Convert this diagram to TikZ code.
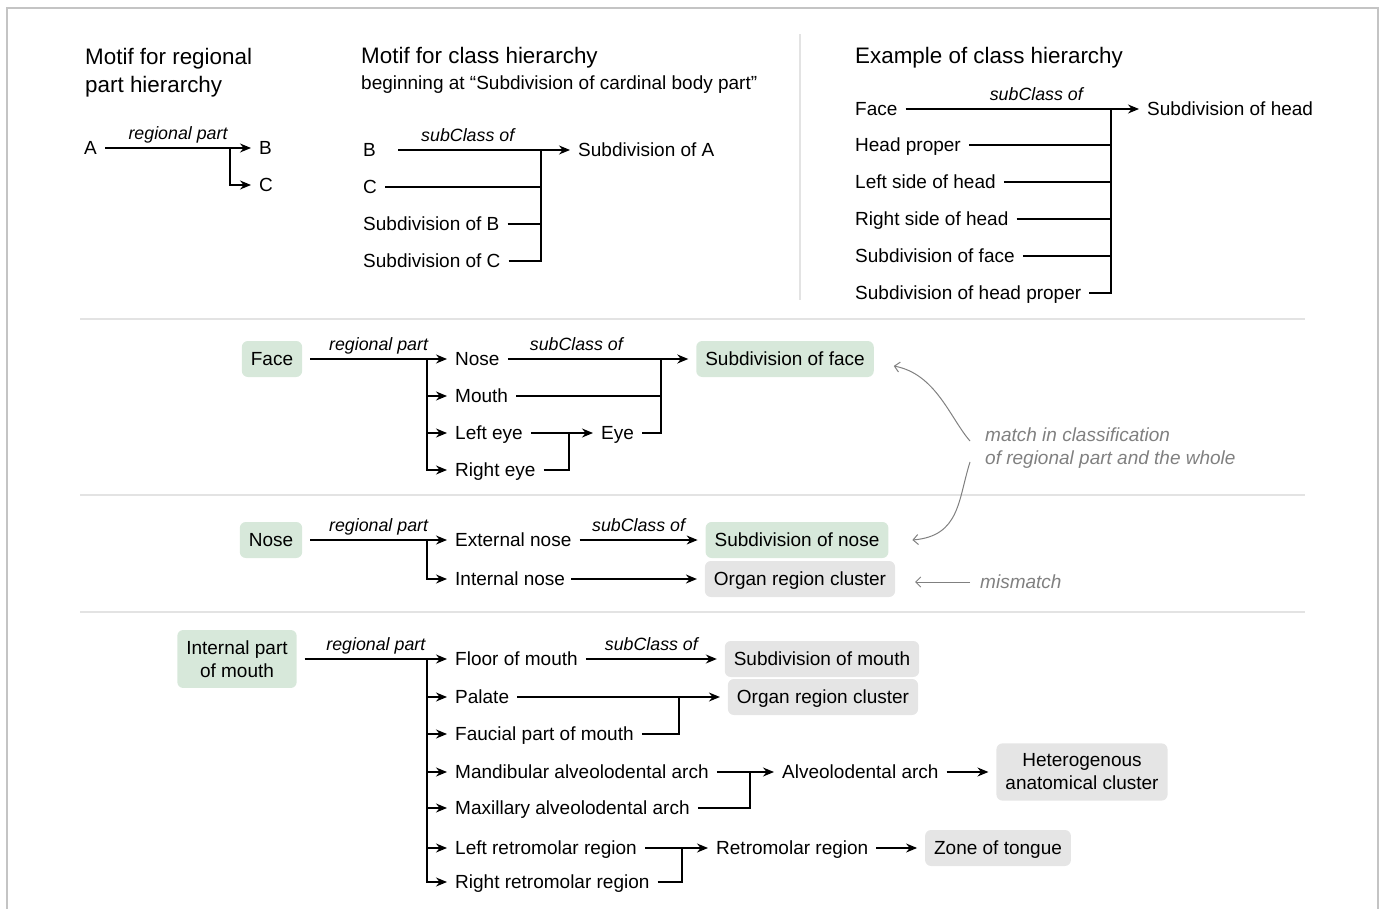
\documentclass[tikz,border=0pt]{standalone}
\usepackage{fontspec}
\setmainfont{Liberation Sans}
\usetikzlibrary{arrows.meta,positioning,calc}
\definecolor{partgreen}{HTML}{D7E8DA}
\definecolor{partgray}{HTML}{E5E5E5}
\definecolor{rulegray}{HTML}{E3E3E3}
\definecolor{framegray}{HTML}{C4C4C4}
\definecolor{notegray}{HTML}{808080}

\tikzset{
  term/.style={anchor=west, inner xsep=8pt, inner ysep=0pt, text height=13.5pt, text depth=0pt},
  heading/.style={anchor=base west, inner sep=0pt, font=\fontsize{22.4}{28}\selectfont},
  rel/.style={font=\fontsize{17.8}{21}\selectfont\itshape, inner xsep=0pt, inner ysep=4pt, text height=12.7pt, text depth=3.7pt},
  wholebox/.style={fill=partgreen, rounded corners=6pt, inner xsep=9pt, inner ysep=11.25pt, outer xsep=8pt, text height=13.5pt, text depth=0pt},
  otherbox/.style={wholebox, fill=partgray},
  twoline/.style={rounded corners=6pt, inner xsep=9pt, inner ysep=10.5pt, outer xsep=8pt, align=center, font=\fontsize{19}{23}\selectfont},
  link/.style={line width=1.3pt},
  arr/.style={link, -{Stealth[length=11pt,width=9pt]}},
  note/.style={anchor=west, inner sep=0pt, align=left, text=notegray, font=\fontsize{19}{23}\selectfont\itshape},
  notearr/.style={notegray, line width=1pt, -{Straight Barb[length=5pt,width=10pt]}},
  divider/.style={rulegray, line width=1.3pt}
}

\begin{document}
\begin{tikzpicture}[x=1pt,y=-1pt, every node/.style={font=\fontsize{19}{23}\selectfont}]
\useasboundingbox (0,0) rectangle (1384,909);
% Moldura
\draw[framegray, line width=2.5pt] (7,930) -- (7,8) -- (1378,8) -- (1378,930);

% Motivo: parte regional
\node[heading, anchor=north west, align=left] (titA) at (85,48) {Motif for regional\\part hierarchy};
\node[term] (A) at (76,148) {A};
\node[term] (B) at (251,148) {B};
\node[term] (C) at (251,185) {C};
\coordinate (jA) at (230,148);
\draw[arr] (A) -- (B) node[rel,midway,above] {regional part};
\draw[arr] (jA) |- (C.west);

% Motivo: classes
\node[heading] (titB) at (361,64) {Motif for class hierarchy};
\node[term, inner xsep=0pt] (subB) at (361,83) {beginning at “Subdivision of cardinal body part”};
\node[term] (B2) at (355,150) {B};
\node[term] (C2) at (355,187) {C};
\node[term] (SB) at (355,224) {Subdivision of B};
\node[term] (SC) at (355,261) {Subdivision of C};
\node[term] (SA) at (570,150) {Subdivision of A};
\coordinate (jB) at (541,150);
\draw[arr, shorten <=14pt] (B2) -- (SA) node[rel,pos=0.45,above] {subClass of};
\draw[link] (C2.east) -- (C2.east -| jB);
\draw[link] (SB.east) -- (SB.east -| jB);
\draw[link] (SC.east) -| (jB);

% Exemplo
\draw[divider] (800,34) -- (800,300);
\node[heading] (titC) at (855,64) {Example of class hierarchy};
\node[term] (eFace) at (847,109) {Face};
\node[term] (eHead) at (847,145) {Head proper};
\node[term] (eLeft) at (847,182) {Left side of head};
\node[term] (eRight) at (847,219) {Right side of head};
\node[term] (eSubFace) at (847,256) {Subdivision of face};
\node[term] (eSubHP) at (847,293) {Subdivision of head proper};
\node[term] (eSubHead) at (1139,109) {Subdivision of head};
\coordinate (jC) at (1111,109);
\draw[arr] (eFace) -- (eSubHead) node[rel,pos=0.56,above] {subClass of};
\draw[link] (eHead.east) -- (eHead.east -| jC);
\draw[link] (eLeft.east) -- (eLeft.east -| jC);
\draw[link] (eRight.east) -- (eRight.east -| jC);
\draw[link] (eSubFace.east) -- (eSubFace.east -| jC);
\draw[link] (eSubHP.east) -| (jC);

% Separadores
\draw[divider] (80,319) -- (1305,319);
\draw[divider] (80,495) -- (1305,495);
\draw[divider] (80,612) -- (1305,612);

% Face
\node[wholebox] (Face) at (272,359) {Face};
\node[term] (Nose) at (447,359) {Nose};
\node[term] (Mouth) at (447,396) {Mouth};
\node[term] (LEye) at (447,433) {Left eye};
\node[term] (REye) at (447,470) {Right eye};
\node[term] (Eye) at (593,433) {Eye};
\node[wholebox] (SubFace) at (785,359) {Subdivision of face};
\coordinate (jF) at (427,359);
\coordinate (jE) at (569,433);
\coordinate (jS) at (661,359);
\draw[arr] (Face) -- (Nose) node[rel,midway,above] {regional part};
\draw[arr] (jF |- Mouth) -- (Mouth);
\draw[arr] (jF |- LEye) -- (LEye);
\draw[arr] (jF) |- (REye.west);
\draw[arr] (Nose) -- (SubFace) node[rel,pos=0.38,above] {subClass of};
\draw[link] (Mouth.east) -- (Mouth.east -| jS);
\draw[arr] (LEye) -- (Eye);
\draw[link] (REye.east) -| (jE);
\draw[link] (Eye.east) -| (jS);

% Nariz
\node[wholebox] (NoseB) at (271,540) {Nose};
\node[term] (ExtNose) at (447,540) {External nose};
\node[term] (IntNose) at (447,579) {Internal nose};
\node[wholebox] (SubNose) at (797,540) {Subdivision of nose};
\node[otherbox] (OrgNose) at (800,579) {Organ region cluster};
\coordinate (jN) at (427,540);
\draw[arr] (NoseB) -- (ExtNose) node[rel,midway,above] {regional part};
\draw[arr] (jN) |- (IntNose.west);
\draw[arr] (ExtNose) -- (SubNose) node[rel,midway,above] {subClass of};
\draw[arr, shorten <=-2pt] (IntNose) -- (OrgNose);

% Notas
\node[note] (Match) at (985,448) {match in classification\\of regional part and the whole};
\node[note] (Mismatch) at (980,582) {mismatch};
\coordinate (m1) at (970,441);
\coordinate (m2) at (970,462);
\draw[notearr] (m1) .. controls (950,418) and (936,374) .. ($(SubFace.east)+(12,7)$);
\draw[notearr] (m2) .. controls (958,500) and (960,536) .. ($(SubNose.east)+(16,0)$);
\draw[notearr, shorten <=10pt, shorten >=12pt] (Mismatch.west) -- (Mismatch.west -| OrgNose.east);

% Boca
\node[twoline, fill=partgreen] (MouthB) at (237,659) {Internal part\\of mouth};
\node[term] (Floor) at (447,659) {Floor of mouth};
\node[term] (Palate) at (447,697) {Palate};
\node[term] (Faucial) at (447,734) {Faucial part of mouth};
\node[term] (Mand) at (447,772) {Mandibular alveolodental arch};
\node[term] (Max) at (447,808) {Maxillary alveolodental arch};
\node[term] (LRetro) at (447,848) {Left retromolar region};
\node[term] (RRetro) at (447,882) {Right retromolar region};
\node[otherbox] (SubMouth) at (822,659) {Subdivision of mouth};
\node[otherbox] (OrgMouth) at (823,697) {Organ region cluster};
\node[term] (Alveo) at (774,772) {Alveolodental arch};
\node[twoline, fill=partgray] (Hetero) at (1082,772) {Heterogenous\\anatomical cluster};
\node[term] (Retro) at (708,848) {Retromolar region};
\node[otherbox] (Zone) at (998,848) {Zone of tongue};
\coordinate (jM) at (427,659);
\coordinate (jP) at (679,697);
\coordinate (jA2) at (750,772);
\coordinate (jR) at (682,848);
\draw[arr] (MouthB) -- (Floor) node[rel,midway,above] {regional part};
\draw[arr] (jM |- Palate) -- (Palate);
\draw[arr] (jM |- Faucial) -- (Faucial);
\draw[arr] (jM |- Mand) -- (Mand);
\draw[arr] (jM |- Max) -- (Max);
\draw[arr] (jM |- LRetro) -- (LRetro);
\draw[arr] (jM) |- (RRetro.west);
\draw[arr] (Floor) -- (SubMouth) node[rel,midway,above] {subClass of};
\draw[arr] (Palate) -- (OrgMouth);
\draw[link] (Faucial.east) -| (jP);
\draw[arr] (Mand) -- (Alveo);
\draw[link] (Max.east) -| (jA2);
\draw[arr] (Alveo) -- (Hetero);
\draw[arr] (LRetro) -- (Retro);
\draw[link] (RRetro.east) -| (jR);
\draw[arr] (Retro) -- (Zone);
\end{tikzpicture}
\end{document}
